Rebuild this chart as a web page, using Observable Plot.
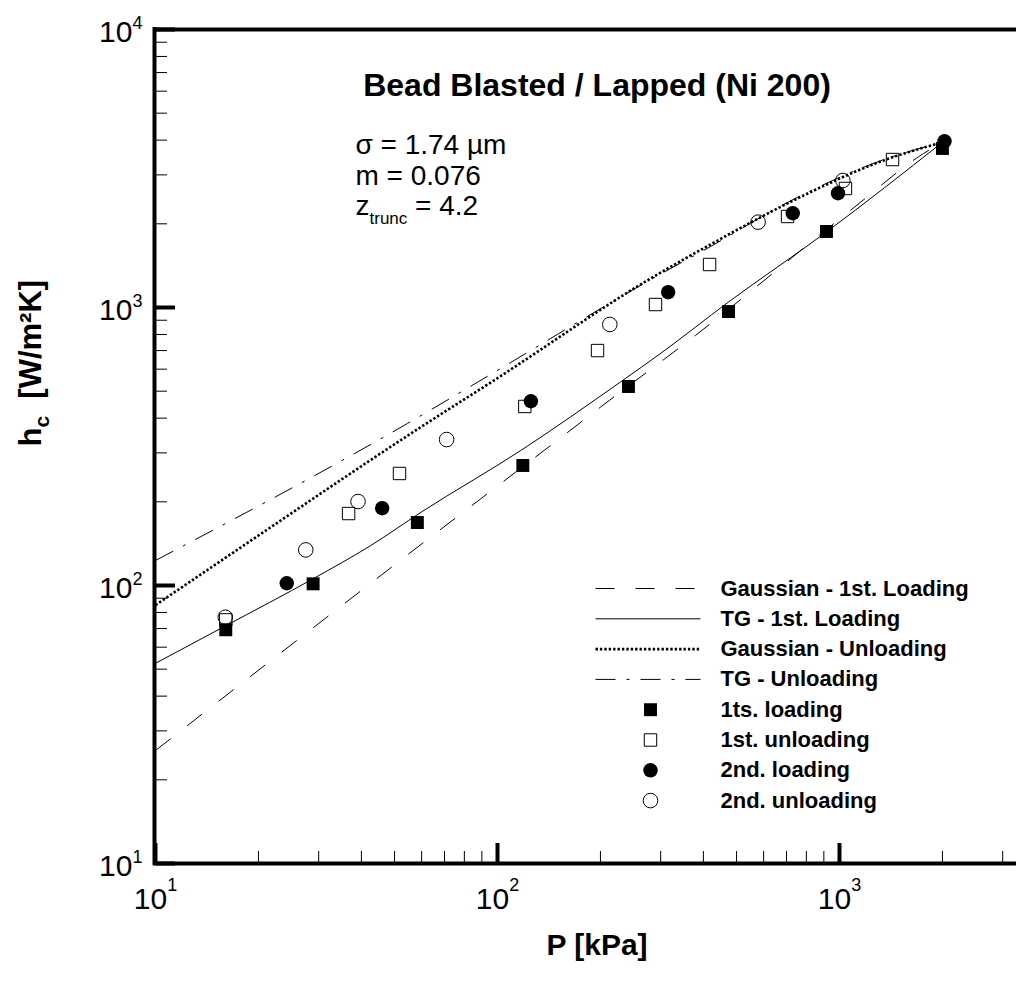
<!DOCTYPE html>
<html>
<head>
<meta charset="utf-8">
<script src="https://cdn.jsdelivr.net/npm/d3@7"></script>
<script src="https://cdn.jsdelivr.net/npm/@observablehq/plot@0.6"></script>
<style>
  html, body { margin: 0; padding: 0; background: #fff; overflow: hidden; }
  svg text { white-space: pre; }
</style>
</head>
<body>
<div id="chart"></div>
<script>
// ---------------- data ----------------
const titleText = "Bead Blasted / Lapped (Ni 200)";
const xTitle = "P [kPa]";
const yTitle = "h_{c}  [W/m²K]";
const annotationLines = ["σ = 1.74 µm", "m = 0.076", "z_{trunc} = 4.2"];

const xMajorTicks = [10, 100, 1000];
const xMajorExponents = [1, 2, 3];
const xMinorTicks = [20, 30, 40, 50, 60, 70, 80, 90, 200, 300, 400, 500, 600, 700, 800, 900, 2000, 3000];
const yMajorTicks = [10, 100, 1000, 10000];
const yMajorExponents = [1, 2, 3, 4];
const yMinorTicks = [20, 30, 40, 50, 60, 70, 80, 90, 200, 300, 400, 500, 600, 700, 800, 900,
                     2000, 3000, 4000, 5000, 6000, 7000, 8000, 9000];

// model curves: [P (kPa), h (W/m²K)]
const gaussLoading = [[10, 25.5], [24, 59], [63.6, 149], [143, 319], [200, 438], [380, 795],
                      [1076, 2234], [1761, 3581], [2000, 3930]];
const tgLoading = [[10, 52.5], [16, 71.5], [29, 106], [42.5, 139], [60, 184], [117, 306],
                   [229, 540], [303, 690], [473, 1045], [916, 1870], [2000, 3930]];
const gaussUnloading = [[10, 85], [19, 145], [59.6, 371], [97.5, 546], [280, 1271],
                        [440, 1741], [753, 2466], [1345, 3381], [2000, 3930]];
const tgUnloading = [[10, 123], [54.6, 383], [87.3, 538], [305.8, 1337], [392, 1580],
                     [753, 2490], [1345, 3400], [2000, 3930]];

// experimental points
const load1P = [16.05, 28.9, 58.3, 118.6, 241.5, 473.6, 916, 2000];
const load1H = [69.3, 101.4, 168.5, 270.2, 519.8, 967, 1877, 3733];
const unload1P = [16.05, 36.7, 51.7, 120.2, 196.1, 289.7, 417, 704.9, 1041, 1429];
const unload1H = [75.2, 181.5, 252.9, 440.6, 700, 1025, 1428, 2125, 2680, 3406];
const load2P = [24.2, 46.0, 125.2, 315.5, 730, 990, 2028];
const load2H = [101.9, 189.7, 460, 1135, 2183, 2576, 3963];
const unload2P = [16.0, 27.5, 39.1, 71.0, 213, 578, 1023];
const unload2H = [76.9, 134.3, 200.5, 335, 869, 2028, 2864];

const legendLabels = ["Gaussian - 1st. Loading", "TG - 1st. Loading", "Gaussian - Unloading", "TG - Unloading",
                      "1ts. loading", "1st. unloading", "2nd. loading", "2nd. unloading"];

// ---------------- layout ----------------
const W = 1016, H = 982;
const M = {left: 155, right: 0, top: 29, bottom: 119};
const frameW = W - M.left - M.right;   // 861
const frameH = H - M.top - M.bottom;   // 834
const xDecadePx = 342;
const xDomain = [10, 10 ** (1 + frameW / xDecadePx)];
const yDomain = [10, 10000];
const FONT = "'Liberation Sans', Arial, Helvetica, sans-serif";

// pixel -> data helpers for the in-plot legend placement
const lx0 = Math.log10(xDomain[0]), lx1 = Math.log10(xDomain[1]);
const ly0 = Math.log10(yDomain[0]), ly1 = Math.log10(yDomain[1]);
const invX = px => 10 ** (lx0 + (px - M.left) / frameW * (lx1 - lx0));
const invY = py => 10 ** (ly1 - (py - M.top) / frameH * (ly1 - ly0));

const lineStyles = [
  {dash: "19 21", width: 1},
  {dash: null, width: 1},
  {dash: "2.4 2.0", width: 2.6},
  {dash: "20 11 3 11", width: 1}
];

const pts = (P, Hh) => P.map((p, i) => ({P: p, h: Hh[i]}));
const curve = arr => arr.map(([P, h]) => ({P, h}));

// legend geometry (pixels)
const legRow0 = 588, legStep = 30.3, legLineX0 = 595, legLineX1 = 700, legMarkX = 650, legTextX = 720;
const legRowY = i => legRow0 + legStep * i;

const marks = [];

// curves
[gaussLoading, tgLoading, gaussUnloading, tgUnloading].forEach((c, i) => {
  marks.push(Plot.line(curve(c), {
    x: "P", y: "h", stroke: "black", strokeWidth: lineStyles[i].width,
    strokeDasharray: lineStyles[i].dash, strokeLinecap: "butt", curve: "monotone-x"
  }));
});

// points
marks.push(Plot.dot(pts(load1P, load1H), {x: "P", y: "h", symbol: "square", r: 7.3, fill: "black", stroke: "none"}));
marks.push(Plot.dot(pts(unload1P, unload1H), {x: "P", y: "h", symbol: "square", r: 7, fill: "none", stroke: "black", strokeWidth: 1}));
marks.push(Plot.dot(pts(load2P, load2H), {x: "P", y: "h", symbol: "circle", r: 7.2, fill: "black", stroke: "none"}));
marks.push(Plot.dot(pts(unload2P, unload2H), {x: "P", y: "h", symbol: "circle", r: 7.3, fill: "none", stroke: "black", strokeWidth: 1}));

// frame lines (left, bottom, top)
marks.push(Plot.ruleX([xDomain[0]], {stroke: "black", strokeWidth: 4, strokeLinecap: "square", dx: -1}));
marks.push(Plot.ruleY([yDomain[0]], {stroke: "black", strokeWidth: 4, strokeLinecap: "square"}));
marks.push(Plot.ruleY([yDomain[1]], {stroke: "black", strokeWidth: 4, strokeLinecap: "square"}));

// ticks (inward)
marks.push(Plot.ruleX(xMinorTicks, {stroke: "black", strokeWidth: 1, insetTop: frameH - 12}));
marks.push(Plot.ruleX(xMajorTicks, {stroke: "black", strokeWidth: 4, insetTop: frameH - 20}));
marks.push(Plot.ruleY(yMinorTicks, {stroke: "black", strokeWidth: 1, insetRight: frameW - 12}));
marks.push(Plot.ruleY(yMajorTicks, {stroke: "black", strokeWidth: 4, insetRight: frameW - 20}));

// tick labels
marks.push(Plot.text(xMajorTicks, {
  x: d => d, frameAnchor: "bottom", text: (d, i) => `10^{${xMajorExponents[i]}}`,
  textAnchor: "middle", lineAnchor: "bottom", dy: 45, dx: 0, fontSize: 30, fill: "black"
}));
marks.push(Plot.text(yMajorTicks, {
  y: d => d, frameAnchor: "left", text: (d, i) => `10^{${yMajorExponents[i]}}`,
  textAnchor: "end", lineAnchor: "bottom", dy: 12, dx: -13, fontSize: 30, fill: "black"
}));

// titles
marks.push(Plot.text([titleText], {frameAnchor: "top", dx: 11, dy: 66, lineAnchor: "bottom",
  fontSize: 32, fontWeight: "bold", fill: "black"}));
marks.push(Plot.text([xTitle], {frameAnchor: "bottom", dx: 11, dy: 91, lineAnchor: "bottom",
  fontSize: 30, fontWeight: "bold", fill: "black"}));
marks.push(Plot.text([yTitle], {frameAnchor: "left", dx: -124, rotate: -90, lineAnchor: "middle",
  fontSize: 31, fontWeight: "bold", fill: "black"}));

// annotation block
const annBaselines = [153, 184, 214];
annotationLines.forEach((t, i) => {
  marks.push(Plot.text([t], {frameAnchor: "top-left", dx: 355 - M.left, dy: annBaselines[i] - M.top,
    textAnchor: "start", lineAnchor: "bottom", fontSize: 28, fill: "black"}));
});

// legend
for (let i = 0; i < 4; i++) {
  const yv = invY(legRowY(i));
  marks.push(Plot.line([{P: invX(legLineX0), h: yv}, {P: invX(legLineX1), h: yv}], {
    x: "P", y: "h", stroke: "black", strokeWidth: lineStyles[i].width,
    strokeDasharray: lineStyles[i].dash, strokeLinecap: "butt"
  }));
}
const legSymbols = [
  {symbol: "square", r: 7.3, fill: "black", stroke: "none"},
  {symbol: "square", r: 7, fill: "none", stroke: "black"},
  {symbol: "circle", r: 7.2, fill: "black", stroke: "none"},
  {symbol: "circle", r: 7.3, fill: "none", stroke: "black"}
];
legSymbols.forEach((s, k) => {
  marks.push(Plot.dot([{P: invX(legMarkX), h: invY(legRowY(4 + k))}], {x: "P", y: "h", ...s, strokeWidth: 1}));
});
marks.push(Plot.text(legendLabels.map((t, i) => ({t, P: invX(legTextX), h: invY(legRowY(i))})), {
  x: "P", y: "h", text: "t", textAnchor: "start", lineAnchor: "middle",
  fontSize: 22, fontWeight: "bold", fill: "black"
}));

const chart = Plot.plot({
  width: W, height: H,
  marginLeft: M.left, marginRight: M.right, marginTop: M.top, marginBottom: M.bottom,
  x: {type: "log", domain: xDomain, axis: null},
  y: {type: "log", domain: yDomain, axis: null},
  style: {fontFamily: FONT, background: "white", color: "black", overflow: "visible"},
  marks
});

// rich text: superscripts / subscripts as tspans
const specs = {
  xtick: {size: 18, shift: -18},
  ytick: {size: 18, shift: -13},
  hc: {size: 21, shift: 8},
  ztrunc: {size: 17, shift: 9}
};
d3.select(chart).selectAll("text").each(function () {
  const s = this.textContent;
  const m = s.match(/^(.*?)([\^_])\{(.*?)\}(.*)$/);
  if (!m) return;
  let spec;
  if (m[2] === "^") {
    const g = this.closest("g");
    spec = g && g.getAttribute("text-anchor") === "end" ? specs.ytick : specs.xtick;
  } else {
    spec = s.startsWith("h") ? specs.hc : specs.ztrunc;
  }
  const t = d3.select(this);
  t.text(null);
  t.append("tspan").text(m[1]);
  t.append("tspan").attr("font-size", spec.size).attr("dy", spec.shift).text(m[3]);
  if (m[4]) t.append("tspan").attr("dy", -spec.shift).text(m[4]);
});

document.getElementById("chart").appendChild(chart);
</script>
</body>
</html>
